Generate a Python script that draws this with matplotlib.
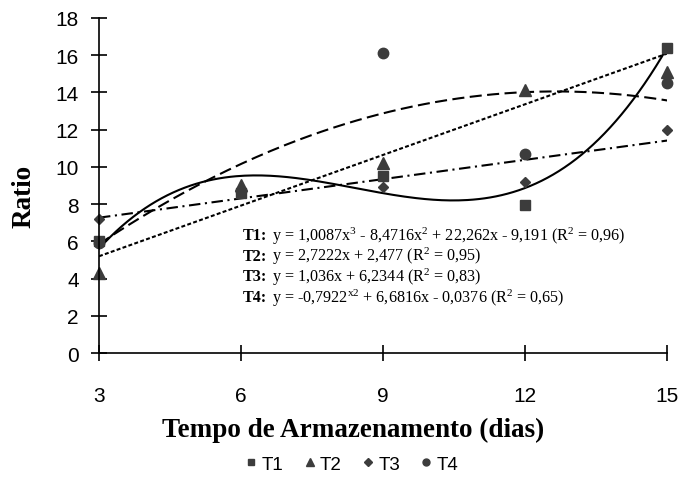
import numpy as np
import matplotlib
matplotlib.use("Agg")
import matplotlib.pyplot as plt
from matplotlib.lines import Line2D

plt.rcParams["font.family"] = ["Liberation Sans", "DejaVu Sans"]
plt.rcParams["mathtext.fontset"] = "custom"
plt.rcParams["mathtext.rm"] = "Liberation Serif"
plt.rcParams["mathtext.it"] = "Liberation Serif:italic"
plt.rcParams["mathtext.bf"] = "Liberation Serif:bold"

# -----------------------------
# data
# -----------------------------
days = [3, 6, 9, 12, 15]
t1 = [6.0, 8.6, 9.5, 7.95, 16.4]
t2 = [4.3, 9.0, 10.2, 14.15, 15.1]
t3 = [7.2, 8.6, 8.9, 9.2, 12.0]
t4 = [5.9, 8.7, 16.1, 10.7, 14.5]

# trend line coefficients (x = 1..5 index of sampling day)
coef_t1 = [1.0087, -8.4716, 22.262, -9.191]
coef_t2 = [2.7222, 2.477]
coef_t3 = [1.036, 6.2344]
coef_t4 = [-0.7922, 6.6816, -0.0376]

eq_names = ["T1:", "T2:", "T3:", "T4:"]
eq_labels = [
    r"y = 1,0087x$^{3}$ - 8,4716x$^{2}$ + 22,262x - 9,191 (R$^{2}$ = 0,96)",
    r"y = 2,7222x + 2,477 (R$^{2}$ = 0,95)",
    r"y = 1,036x + 6,2344 (R$^{2}$ = 0,83)",
    r"y = -0,7922$^{\mathrm{x2}}$ + 6,6816x - 0,0376 (R$^{2}$ = 0,65)",
]

# -----------------------------
# figure
# -----------------------------
fig = plt.figure(figsize=(6.79, 4.85), dpi=100)
ax = fig.add_axes([0.1458, 0.27, 0.837, 0.691])

mk_color = "#3c3c3c"
xs = np.linspace(3, 15, 200)
idx = xs / 3.0

ax.plot(xs, np.polyval(coef_t1, idx), color="black", lw=1.5, ls="-")
ax.plot(xs, np.polyval(coef_t2, idx), color="black", lw=1.5, ls=(0, (1.9, 1.1)))
ax.plot(xs, np.polyval(coef_t3, idx), color="black", lw=1.5, ls=(0, (5.5, 2.2, 1.0, 2.2)))
ax.plot(xs, np.polyval(coef_t4, idx), color="black", lw=1.5, ls=(0, (5.8, 2.6)))

ax.plot(days, t4, "o", color=mk_color, ms=7.5, ls="none", clip_on=False)
ax.plot(days, t3, "D", color=mk_color, ms=5.5, ls="none", clip_on=False)
ax.plot(days, t2, "^", color=mk_color, ms=8, ls="none", clip_on=False)
ax.plot(days, t1, "s", color=mk_color, ms=7.5, ls="none", clip_on=False)

ax.set_xlim(3, 15)
ax.set_ylim(0, 18)
ax.set_xticks(days)
ax.set_yticks(range(0, 19, 2))
ax.spines["top"].set_visible(False)
ax.spines["right"].set_visible(False)
for s in ["left", "bottom"]:
    ax.spines[s].set_linewidth(1.2)
ax.tick_params(axis="both", direction="inout", length=11, width=1.2, labelsize=15)
ax.tick_params(axis="y", pad=9)
ax.tick_params(axis="x", pad=18)

for i, (name, lab) in enumerate(zip(eq_names, eq_labels)):
    ypos = 1 - (236 + 20.7 * i) / 485
    fig.text(243 / 679, ypos, name, fontsize=11.6, family="Liberation Serif",
             weight="bold", va="center", ha="left")
    fig.text(272 / 679, ypos, lab, fontsize=11.6,
             family="Liberation Serif", va="center", ha="left")

fig.text(353 / 679, 1 - 437 / 485, "Tempo de Armazenamento (dias)",
         family="Liberation Serif", weight="bold", fontsize=19.5, ha="center", va="baseline")
fig.text(24 / 679, 1 - 196 / 485, "Ratio", family="Liberation Serif", weight="bold",
         fontsize=19.5, rotation=90, ha="center", va="center")

handles = [
    Line2D([], [], marker="s", color=mk_color, ls="none", ms=5),
    Line2D([], [], marker="^", color=mk_color, ls="none", ms=5.5),
    Line2D([], [], marker="D", color=mk_color, ls="none", ms=4),
    Line2D([], [], marker="o", color=mk_color, ls="none", ms=5),
]
fig.legend(handles, ["T1", "T2", "T3", "T4"], loc="center", ncol=4,
           bbox_to_anchor=(352 / 679, 1 - 465 / 485), frameon=False, fontsize=13.5,
           handlelength=0.6, handletextpad=0.25, columnspacing=1.1)

fig.savefig("out.png", dpi=100)
